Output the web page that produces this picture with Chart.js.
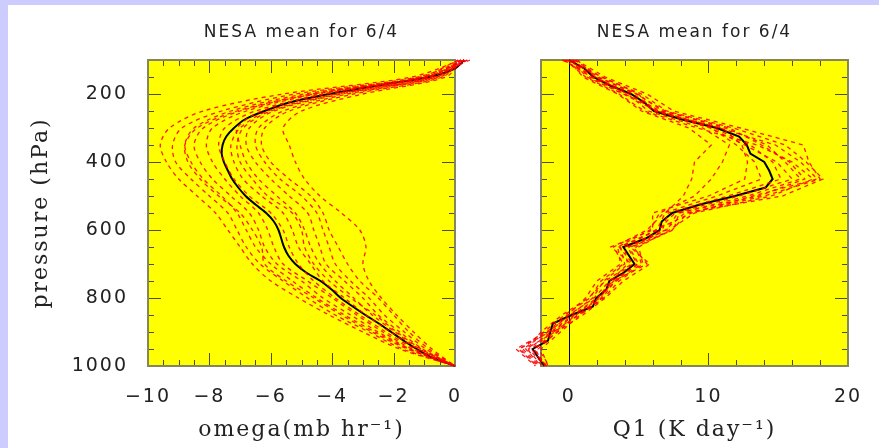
<!DOCTYPE html>
<html>
<head>
<meta charset="utf-8">
<script src="https://cdn.jsdelivr.net/npm/chart.js@4"></script>
<style>
  html, body { margin: 0; padding: 0; width: 879px; height: 448px; overflow: hidden; background: #ccccff; }
  #frame { position: absolute; left: 8px; top: 5px; right: 0; bottom: 0; background: #ffffff; }
  #omegaChart { position: absolute; left: 0; top: 0; }
  #q1Chart { position: absolute; left: 470px; top: 0; }
</style>
</head>
<body>
<div id="frame"></div>
<canvas id="omegaChart" width="470" height="448"></canvas>
<canvas id="q1Chart" width="409" height="448"></canvas>
<script>
// pressure levels (hPa)
const pMean = [100, 125, 150, 175, 200, 225, 250, 275, 300, 325, 350, 375, 400, 425, 450, 475, 500, 525, 550,
  575, 600, 625, 650, 675, 700, 725, 750, 775, 800, 825, 850, 875, 900, 925, 950, 975, 1000];
const pRuns = [100, 150, 200, 250, 300, 350, 400, 450, 500, 550, 600, 650, 700, 750, 800, 850, 900, 950, 1000];

// tick labels
const omegaTicks = [-10, -8, -6, -4, -2, 0];
const q1Ticks = [0, 10, 20];
const pressureTicks = [200, 400, 600, 800, 1000];

// NESA mean omega (mb/hr)
const omegaMean = [0.3, 0.0, -0.85, -2.5, -4.1, -5.4, -6.2, -6.85, -7.2, -7.45, -7.57, -7.6, -7.53, -7.4, -7.26,
  -7.06, -6.82, -6.5, -6.15, -5.9, -5.75, -5.66, -5.57, -5.43, -5.2, -4.85, -4.38, -4.02, -3.72, -3.33, -2.92,
  -2.48, -2.08, -1.68, -1.25, -0.75, 0];

// individual runs, omega
const omegaRuns = [
  [0.2, -1.4, -5.6, -8.2, -9.3, -9.6, -9.4, -9.0, -8.4, -7.8, -7.4, -7.0, -6.6, -6.0, -5.1, -4.1, -3.0, -1.8, 0],
  [0.3, -1.2, -5.2, -7.6, -8.9, -9.2, -9.1, -8.6, -8.0, -7.4, -7.1, -6.8, -6.35, -5.6, -4.8, -3.9, -2.8, -1.7, 0],
  [0.1, -1.1, -4.9, -7.3, -8.5, -8.8, -8.6, -8.2, -7.6, -7.1, -6.8, -6.5, -6.0, -5.3, -4.5, -3.6, -2.6, -1.5, 0],
  [0.4, -1.0, -4.6, -7.0, -8.2, -8.5, -8.3, -7.9, -7.3, -6.7, -6.4, -6.2, -5.8, -5.0, -4.3, -3.4, -2.5, -1.45, 0],
  [0.3, -0.9, -4.5, -6.8, -7.9, -8.1, -7.9, -7.5, -7.0, -6.4, -6.1, -5.9, -5.6, -4.8, -4.0, -3.2, -2.35, -1.4, 0],
  [0.2, -0.8, -4.2, -6.5, -7.5, -7.7, -7.5, -7.2, -6.7, -6.0, -5.6, -5.4, -5.1, -4.6, -3.9, -3.1, -2.25, -1.3, 0],
  [0.3, -0.7, -3.9, -6.1, -7.0, -7.3, -7.2, -6.9, -6.3, -5.6, -5.3, -5.1, -4.7, -4.3, -3.6, -2.9, -2.1, -1.2, 0],
  [0.5, -0.9, -4.3, -6.3, -7.1, -7.0, -6.8, -6.4, -5.8, -5.2, -4.9, -4.7, -4.4, -3.9, -3.3, -2.7, -1.95, -1.15, 0],
  [0.2, -0.6, -3.7, -5.9, -6.7, -6.8, -6.5, -6.0, -5.4, -4.8, -4.6, -4.4, -4.2, -3.6, -3.0, -2.5, -1.8, -1.05, 0],
  [0.3, -0.5, -3.5, -5.6, -6.4, -6.5, -6.2, -5.7, -5.0, -4.5, -4.3, -4.1, -3.9, -3.4, -2.8, -2.3, -1.65, -0.95, 0],
  [0.1, -0.4, -3.3, -5.4, -6.2, -6.3, -6.0, -5.4, -4.7, -4.3, -4.1, -3.8, -3.5, -3.1, -2.5, -2.0, -1.5, -0.85, 0],
  [0.2, -0.3, -3.0, -5.0, -5.6, -5.4, -5.2, -4.9, -4.4, -3.7, -3.1, -2.9, -3.0, -2.8, -2.4, -1.9, -1.35, -0.75, 0],
  [0.4, -0.6, -3.8, -6.0, -6.9, -7.1, -7.0, -6.6, -6.1, -5.3, -5.0, -4.9, -4.6, -4.1, -3.4, -2.6, -1.9, -1.1, 0],
  [0.3, -1.0, -4.7, -7.1, -8.4, -8.8, -8.7, -8.3, -7.7, -7.0, -6.6, -6.3, -6.2, -5.5, -4.6, -3.7, -2.7, -1.55, 0]
];

// NESA mean Q1 (K/day)
const q1Mean = [0.0, 1.1, 1.75, 2.95, 4.45, 5.4, 6.1, 8.1, 10.6, 12.2, 12.75, 13.0, 14.0, 14.35, 14.6, 14.1,
  11.9, 9.4, 7.4, 6.65, 6.5, 5.5, 3.9, 4.3, 4.7, 3.95, 2.9, 2.68, 1.95, 1.72, 0.2, -1.15, -1.33, -1.5, -2.6,
  -2.2, -1.75];

// individual runs, Q1
const q1Runs = [
  [-0.3, 1.2, 3.6, 5.4, 9.2, 13.5, 16.0, 17.5, 14.5, 9.0, 7.2, 5.0, 5.3, 3.6, 2.5, 0.8, -0.6, -2.0, -1.5],
  [0.4, 2.3, 5.2, 7.0, 11.8, 15.5, 17.0, 18.2, 15.3, 8.3, 6.9, 4.6, 5.6, 3.2, 2.2, 0.5, -1.0, -3.1, -2.0],
  [0.2, 1.5, 4.0, 6.6, 10.2, 12.0, 13.3, 13.8, 10.6, 6.8, 5.6, 3.2, 3.9, 2.3, 1.5, -0.3, -1.8, -3.5, -2.2],
  [-0.5, 2.0, 4.8, 6.9, 11.2, 14.2, 15.5, 16.6, 12.8, 7.9, 7.5, 4.4, 5.8, 3.9, 2.6, 1.0, -0.9, -2.2, -1.4],
  [0.6, 1.9, 4.2, 5.7, 9.6, 11.5, 11.0, 10.2, 9.0, 6.5, 5.8, 3.5, 3.7, 2.0, 1.2, -0.1, -1.6, -3.8, -2.4],
  [0.1, 1.3, 3.9, 6.3, 10.8, 14.8, 16.6, 17.8, 13.2, 8.8, 6.2, 4.0, 4.2, 3.0, 2.1, 0.4, -1.2, -2.7, -1.6],
  [-0.2, 2.4, 5.0, 6.0, 11.0, 12.4, 12.8, 12.6, 10.0, 6.0, 6.0, 3.0, 4.5, 2.6, 1.4, -0.5, -2.0, -3.0, -1.9],
  [0.3, 1.7, 4.6, 6.4, 10.4, 13.0, 14.6, 15.2, 11.4, 7.1, 6.7, 4.2, 4.9, 3.3, 2.4, 0.7, -1.1, -2.4, -1.8],
  [0.0, 1.0, 3.5, 5.2, 8.6, 10.2, 9.0, 8.8, 8.2, 6.9, 6.3, 3.7, 4.0, 2.5, 1.7, 0.1, -1.5, -3.3, -2.1],
  [0.5, 2.6, 5.6, 7.5, 12.3, 16.8, 17.2, 18.0, 14.0, 8.5, 7.4, 4.8, 5.2, 3.4, 2.0, 0.3, -1.3, -2.9, -1.7],
  [-0.4, 1.6, 4.3, 6.2, 10.1, 12.6, 14.9, 16.0, 12.2, 7.6, 6.4, 3.6, 4.6, 2.9, 1.8, 0.0, -1.4, -3.6, -2.3],
  [0.2, 2.1, 4.9, 6.7, 11.5, 13.8, 15.8, 16.9, 13.6, 7.8, 7.0, 4.3, 5.0, 3.1, 2.3, 0.6, -0.8, -2.5, -1.6]
];

function toPoints(xs, ps) {
  return xs.map((v, i) => ({ x: v, y: ps[i] }));
}

function minusLabel(v) {
  return v < 0 ? "\u2212" + Math.abs(v) : String(v);
}

// yellow panel, inside tick marks, frame
const panelPlugin = {
  id: "panel",
  beforeDraw(chart) {
    const { ctx, chartArea: a } = chart;
    ctx.save();
    ctx.fillStyle = "#ffff00";
    ctx.fillRect(a.left, a.top, a.right - a.left, a.bottom - a.top);
    ctx.restore();
    ctx.letterSpacing = "2px";
  },
  beforeDatasetsDraw(chart, args, opts) {
    const { ctx, chartArea: a, scales } = chart;
    const x = scales.x, y = scales.y;
    ctx.save();
    ctx.letterSpacing = "0px";
    ctx.strokeStyle = "#4d4d28";
    ctx.lineWidth = 1;
    ctx.beginPath();
    for (let v = x.min; v <= x.max + 1e-9; v += opts.xMinor) {
      const px = Math.round(x.getPixelForValue(v)) + 0.5;
      const r = v / opts.xMajor;
      const len = Math.abs(r - Math.round(r)) < 1e-6 ? 13 : 6;
      ctx.moveTo(px, a.bottom); ctx.lineTo(px, a.bottom - len);
      ctx.moveTo(px, a.top); ctx.lineTo(px, a.top + len);
    }
    for (let v = y.min; v <= y.max + 1e-9; v += 50) {
      const py = Math.round(y.getPixelForValue(v)) + 0.5;
      const len = v % 200 === 0 ? 13 : 6;
      ctx.moveTo(a.left, py); ctx.lineTo(a.left + len, py);
      ctx.moveTo(a.right, py); ctx.lineTo(a.right - len, py);
    }
    ctx.stroke();
    if (opts.zeroLine) {
      const px = Math.round(x.getPixelForValue(0)) + 0.5;
      ctx.strokeStyle = "#000";
      ctx.beginPath();
      ctx.moveTo(px, a.top); ctx.lineTo(px, a.bottom);
      ctx.stroke();
    }
    ctx.strokeStyle = "#86865e";
    ctx.lineWidth = 2;
    ctx.strokeRect(a.left, a.top, a.right - a.left, a.bottom - a.top);
    ctx.restore();
  },
  afterDraw(chart) {
    chart.ctx.letterSpacing = "0px";
  }
};

function makeDatasets(runs, mean, tension) {
  const sets = runs.map((r) => ({
    data: toPoints(r, pRuns),
    borderColor: "rgba(255, 0, 0, 0.9)",
    borderWidth: 1.3,
    borderDash: [4, 4],
    pointRadius: 0,
    tension: tension,
    clip: false
  }));
  sets.push({
    data: toPoints(mean, pMean),
    borderColor: "#000000",
    borderWidth: 2,
    pointRadius: 0,
    tension: tension,
    clip: false
  });
  return sets;
}

function makeChart(id, opts) {
  const ctx = document.getElementById(id).getContext("2d");
  return new Chart(ctx, {
    type: "line",
    data: { datasets: makeDatasets(opts.runs, opts.mean, opts.tension) },
    plugins: [panelPlugin],
    options: {
      responsive: false,
      animation: false,
      events: [],
      layout: { padding: { left: 0, right: opts.rightPad, top: 0, bottom: 0 } },
      plugins: {
        legend: { display: false },
        tooltip: { enabled: false },
        title: {
          display: true,
          text: "NESA mean for 6/4",
          fullSize: false,
          color: "#222222",
          font: { family: "DejaVu Sans", size: 17, weight: "normal" },
          padding: { top: 22, bottom: 17.6 }
        },
        panel: { xMinor: opts.xMinor, xMajor: opts.xMajor, zeroLine: opts.zeroLine }
      },
      scales: {
        x: {
          type: "linear",
          min: opts.xMin,
          max: opts.xMax,
          afterBuildTicks: (s) => { s.ticks = opts.xTicks.map((v) => ({ value: v })); },
          afterFit: (s) => { s.height = 82; },
          grid: { display: false, drawTicks: true, tickLength: 20 },
          border: { display: false },
          ticks: {
            padding: 0,
            autoSkip: false,
            maxRotation: 0,
            color: "#222222",
            font: { family: "DejaVu Sans", size: 19 },
            callback: (v) => minusLabel(v)
          },
          title: {
            display: true,
            text: opts.xTitle,
            color: "#222222",
            font: { family: "DejaVu Serif", size: 22 },
            padding: { top: 0, bottom: 5 }
          }
        },
        y: {
          type: "linear",
          min: 100,
          max: 1000,
          reverse: true,
          afterBuildTicks: (s) => { s.ticks = pressureTicks.map((v) => ({ value: v })); },
          afterFit: (s) => { s.width = opts.yWidth; },
          grid: { display: false, drawTicks: true, tickLength: 20 },
          border: { display: false },
          ticks: {
            display: opts.yLabels,
            padding: 0,
            color: "#222222",
            font: { family: "DejaVu Sans", size: 19 },
            callback: (v) => String(v)
          },
          title: {
            display: opts.yLabels,
            text: "pressure (hPa)",
            color: "#222222",
            font: { family: "DejaVu Serif", size: 22 },
            padding: { top: 28, bottom: 0 }
          }
        }
      }
    }
  });
}

makeChart("omegaChart", {
  runs: omegaRuns, mean: omegaMean, tension: 0.3,
  xMin: -10, xMax: 0, xTicks: omegaTicks, xMinor: 0.5, xMajor: 2,
  xTitle: "omega(mb hr\u207B\u00B9)", yWidth: 148, yLabels: true, rightPad: 15, zeroLine: false
});

makeChart("q1Chart", {
  runs: q1Runs, mean: q1Mean, tension: 0,
  xMin: -2, xMax: 20, xTicks: q1Ticks, xMinor: 2, xMajor: 10,
  xTitle: "Q1 (K day\u207B\u00B9)", yWidth: 71, yLabels: false, rightPad: 31, zeroLine: true
});
</script>
</body>
</html>
